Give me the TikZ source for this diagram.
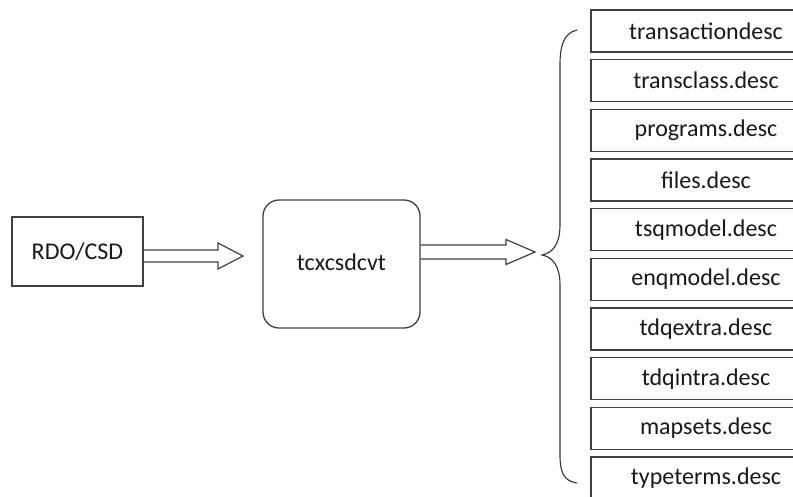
\documentclass[tikz,border=0pt]{standalone}
\usepackage{fontspec}
\setmainfont{Carlito}
\usetikzlibrary{calc}
\begin{document}
\begin{tikzpicture}[x=1pt,y=-1pt,
  every node/.style={font=\fontsize{24}{28}\selectfont, text=black!90},
  plainbox/.style={draw=black!75, line width=1.3pt, inner sep=0pt},
  descbox/.style={plainbox, minimum width=230pt, minimum height=42pt},
  hollow/.style={draw=black!75, line width=1.2pt, line join=miter},
  bracestyle/.style={draw=black!80, line width=1.1pt}]
\clip (0,0) rectangle (793,496);
\fill[white] (0,0) rectangle (793,496);
% source and converter
\node[plainbox, minimum width=131pt, minimum height=69pt] (rdo) at (77.5,251.5) {RDO/CSD};
\node[plainbox, rounded corners=16pt, minimum width=157pt, minimum height=128pt] (cvt) at (341.5,264) {};
\node (cvtlabel) at (341.5,262) {tcxcsdcvt};
% output files
\foreach \t [count=\i from 0] in {transactiondesc, transclass.desc, programs.desc, files.desc, tsqmodel.desc, enqmodel.desc, tdqextra.desc, tdqintra.desc, mapsets.desc, typeterms.desc}{
  \node[descbox] (f\i) at (706, 31+49.67*\i) {\t};
}
% hollow arrows
\coordinate (t1) at (243,256);
\draw[hollow] ($(rdo.east |- t1)+(0,-6)$) -- ($(t1)+(-25,-6)$) -- ($(t1)+(-25,-13)$) -- (t1)
  -- ($(t1)+(-25,13)$) -- ($(t1)+(-25,6)$) -- ($(rdo.east |- t1)+(0,6)$);
\coordinate (t2) at (535,252);
\draw[hollow] ($(cvt.east |- t2)+(0,-7)$) -- ($(t2)+(-29,-7)$) -- ($(t2)+(-29,-12.5)$) -- (t2)
  -- ($(t2)+(-29,12.5)$) -- ($(t2)+(-29,7)$) -- ($(cvt.east |- t2)+(0,7)$);
% brace
\coordinate (btop) at (577,30);
\coordinate (btip) at (542,255);
\coordinate (bbot) at (577,483);
\draw[bracestyle] (btop) .. controls (564,33) and (560,45) .. (560,65)
  -- (560,225) .. controls (560,245) and (552,253) .. (btip)
  .. controls (552,257) and (560,265) .. (560,285)
  -- (560,455) .. controls (560,473) and (564,481) .. (bbot);
\end{tikzpicture}
\end{document}
